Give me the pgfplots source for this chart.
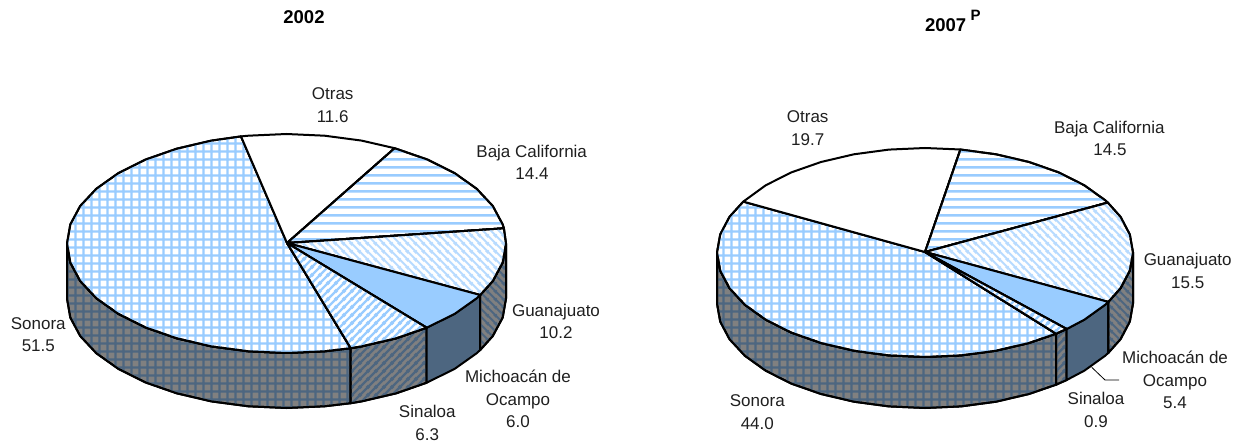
\documentclass[border=0pt]{standalone}
\usepackage{pgfplots}
\pgfplotsset{compat=1.18}
\usepackage{fontspec}
\setmainfont{Liberation Sans}
\usetikzlibrary{patterns}
\definecolor{topblue}{HTML}{99CCFF}
\definecolor{lightblue}{HTML}{B8DBFF}
\definecolor{sideblue}{HTML}{4D6680}
\definecolor{sidegray}{HTML}{808080}
\pgfdeclarepatternformonly{plaid}{\pgfqpoint{0pt}{0pt}}{\pgfqpoint{8pt}{8pt}}{\pgfqpoint{8pt}{8pt}}{%
  \pgfsetlinewidth{2.6pt}%
  \pgfpathmoveto{\pgfqpoint{4pt}{-1pt}}\pgfpathlineto{\pgfqpoint{4pt}{9pt}}%
  \pgfpathmoveto{\pgfqpoint{-1pt}{4pt}}\pgfpathlineto{\pgfqpoint{9pt}{4pt}}%
  \pgfusepath{stroke}}
\pgfdeclarepatternformonly{hstripes}{\pgfqpoint{0pt}{0pt}}{\pgfqpoint{8pt}{8pt}}{\pgfqpoint{8pt}{8pt}}{%
  \pgfsetlinewidth{2.6pt}%
  \pgfpathmoveto{\pgfqpoint{-1pt}{4pt}}\pgfpathlineto{\pgfqpoint{9pt}{4pt}}%
  \pgfusepath{stroke}}
\pgfdeclarepatternformonly{upstripes}{\pgfqpoint{0pt}{0pt}}{\pgfqpoint{8pt}{8pt}}{\pgfqpoint{8pt}{8pt}}{%
  \pgfsetlinewidth{2.6pt}%
  \pgfpathmoveto{\pgfqpoint{-2pt}{-2pt}}\pgfpathlineto{\pgfqpoint{10pt}{10pt}}%
  \pgfpathmoveto{\pgfqpoint{-2pt}{6pt}}\pgfpathlineto{\pgfqpoint{2pt}{10pt}}%
  \pgfpathmoveto{\pgfqpoint{6pt}{-2pt}}\pgfpathlineto{\pgfqpoint{10pt}{2pt}}%
  \pgfusepath{stroke}}
\pgfdeclarepatternformonly{downstripes}{\pgfqpoint{0pt}{0pt}}{\pgfqpoint{8pt}{8pt}}{\pgfqpoint{8pt}{8pt}}{%
  \pgfsetlinewidth{2.2pt}%
  \pgfpathmoveto{\pgfqpoint{-2pt}{10pt}}\pgfpathlineto{\pgfqpoint{10pt}{-2pt}}%
  \pgfpathmoveto{\pgfqpoint{-2pt}{2pt}}\pgfpathlineto{\pgfqpoint{2pt}{-2pt}}%
  \pgfpathmoveto{\pgfqpoint{6pt}{10pt}}\pgfpathlineto{\pgfqpoint{10pt}{6pt}}%
  \pgfusepath{stroke}}
\tikzset{
  edge/.style={draw=black,line width=2pt,line join=round},
  top/.style={edge,preaction={fill=white},pattern=#1,pattern color=topblue},
  topl/.style={edge,preaction={fill=white},pattern=#1,pattern color=lightblue},
  side/.style={edge,preaction={fill=sidegray},pattern=#1,pattern color=sideblue},
  lab/.style={anchor=base,inner sep=0pt,text=black!88,font=\fontsize{17}{20}\selectfont},
  ttl/.style={anchor=base,inner sep=0pt,font=\fontsize{18.5}{20}\selectfont\bfseries},
}
\begin{document}
\begin{tikzpicture}
\useasboundingbox (0,0) rectangle (1238pt,443pt);
\begin{axis}[at={(0,0)},anchor=south west,width=1238pt,height=443pt,scale only axis,
  xmin=0,xmax=1238,ymin=0,ymax=443,y dir=reverse,hide axis,clip=false]
% ---- 2002: sides
\addplot[side=plaid] coordinates {(67,243.5)(70.3,262.5)(80.2,281)(96.4,298.3)(118.4,313.9)(145.4,327.4)(176.7,338.3)(211.4,346.4)(248.4,351.3)(286.5,353)(324.6,351.3)(350.7,348.2)(350.7,403.2)(324.6,406.3)(286.5,408)(248.4,406.3)(211.4,401.4)(176.7,393.3)(145.4,382.4)(118.4,368.9)(96.4,353.3)(80.2,336)(70.3,317.5)(67,298.5)} -- cycle;
\addplot[side=upstripes] coordinates {(350.7,348.2)(361.6,346.4)(396.3,338.3)(426.7,327.7)(426.7,382.7)(396.3,393.3)(361.6,401.4)(350.7,403.2)} -- cycle;
\addplot[edge,fill=sideblue] coordinates {(426.7,327.7)(454.6,313.9)(476.6,298.3)(480.2,295)(480.2,350)(476.6,353.3)(454.6,368.9)(426.7,382.7)} -- cycle;
\addplot[side=downstripes] coordinates {(480.2,295)(492.8,281)(502.7,262.5)(506,243.5)(506,298.5)(502.7,317.5)(492.8,336)(480.2,350)} -- cycle;
% ---- 2002: top faces
\addplot[top=plaid] coordinates {(287,243)(350.7,348.2)(324.6,351.3)(286.5,353)(248.4,351.3)(211.4,346.4)(176.7,338.3)(145.4,327.4)(118.4,313.9)(96.4,298.3)(80.2,281)(70.3,262.5)(67,243.5)(70.3,224.5)(80.2,206)(96.4,188.7)(118.4,173.1)(145.4,159.6)(176.7,148.7)(211.4,140.6)(241,136.4)} -- cycle;
\addplot[edge,fill=white] coordinates {(287,243)(241,136.4)(248.4,135.7)(286.5,134)(324.6,135.7)(361.6,140.6)(394.6,148.2)} -- cycle;
\addplot[top=hstripes] coordinates {(287,243)(394.6,148.2)(427.6,159.6)(454.6,173.1)(476.6,188.7)(492.8,206)(502.7,224.5)(503.9,228.3)} -- cycle;
\addplot[topl=downstripes] coordinates {(287,243)(503.9,228.3)(506,243.5)(502.7,262.5)(492.8,281)(480.2,295)} -- cycle;
\addplot[edge,fill=topblue] coordinates {(287,243)(480.2,295)(476.6,298.3)(454.6,313.9)(426.7,327.7)} -- cycle;
\addplot[top=upstripes] coordinates {(287,243)(426.7,327.7)(396.3,338.3)(361.6,346.4)(350.7,348.2)} -- cycle;
% ---- 2007: sides
\addplot[side=plaid] coordinates {(717,252.5)(720.2,270.6)(729.5,288.2)(744.9,304.8)(765.7,319.7)(791.3,332.6)(821,343)(853.9,350.7)(888.9,355.4)(925,357)(961.1,355.4)(996.1,350.7)(1029,343)(1056,333.7)(1056,384.7)(1029,394)(996.1,401.7)(961.1,406.4)(925,408)(888.9,406.4)(853.9,401.7)(821,394)(791.3,383.6)(765.7,370.7)(744.9,355.8)(729.5,339.2)(720.2,321.6)(717,303.5)} -- cycle;
\addplot[side=upstripes] coordinates {(1056,333.7)(1066.7,329)(1066.7,380)(1056,384.7)} -- cycle;
\addplot[edge,fill=sideblue] coordinates {(1066.7,329)(1084.3,319.7)(1105.1,304.8)(1108.3,301.9)(1108.3,352.9)(1105.1,355.8)(1084.3,370.7)(1066.7,380)} -- cycle;
\addplot[side=downstripes] coordinates {(1108.3,301.9)(1120.5,288.2)(1129.8,270.6)(1133,252.5)(1133,303.5)(1129.8,321.6)(1120.5,339.2)(1108.3,352.9)} -- cycle;
% ---- 2007: top faces
\addplot[top=plaid] coordinates {(925,252)(1056,333.7)(1029,343)(996.1,350.7)(961.1,355.4)(925,357)(888.9,355.4)(853.9,350.7)(821,343)(791.3,332.6)(765.7,319.7)(744.9,304.8)(729.5,288.2)(720.2,270.6)(717,252.5)(720.2,234.4)(729.5,216.8)(743.3,201.6)} -- cycle;
\addplot[edge,fill=white] coordinates {(925,252)(743.3,201.6)(765.7,185.3)(791.3,172.4)(821,162)(853.9,154.3)(888.9,149.6)(925,148)(960.4,149.5)} -- cycle;
\addplot[top=hstripes] coordinates {(925,252)(960.4,149.5)(996.1,154.3)(1029,162)(1058.7,172.4)(1084.3,185.3)(1105.1,200.2)(1107.8,202.6)} -- cycle;
\addplot[topl=downstripes] coordinates {(925,252)(1107.8,202.6)(1120.5,216.8)(1129.8,234.4)(1133,252.5)(1129.8,270.6)(1120.5,288.2)(1108.3,301.9)} -- cycle;
\addplot[edge,fill=topblue] coordinates {(925,252)(1108.3,301.9)(1105.1,304.8)(1084.3,319.7)(1066.7,329)} -- cycle;
\addplot[top=upstripes] coordinates {(925,252)(1066.7,329)(1056,333.7)} -- cycle;
% leader line
\addplot[black,line width=0.8pt] coordinates {(1091.7,367.3)(1105,380)(1119,380)};
% ---- labels
\node[ttl] at (axis cs:304,23.5) {2002};
\node[lab] at (axis cs:332.7,100) {Otras};
\node[lab] at (axis cs:332.7,123) {11.6};
\node[lab] at (axis cs:531.7,157.7) {Baja California};
\node[lab] at (axis cs:532,180) {14.4};
\node[lab] at (axis cs:556,316.7) {Guanajuato};
\node[lab] at (axis cs:556,338.7) {10.2};
\node[lab] at (axis cs:518,382.7) {Michoacán de};
\node[lab] at (axis cs:518,405.3) {Ocampo};
\node[lab] at (axis cs:518,427.7) {6.0};
\node[lab] at (axis cs:427.3,417.7) {Sinaloa};
\node[lab] at (axis cs:427.3,440) {6.3};
\node[lab] at (axis cs:38.3,329.3) {Sonora};
\node[lab] at (axis cs:38.3,351.7) {51.5};
\node[ttl] at (axis cs:945.7,32) {2007};
\node[anchor=base,inner sep=0pt,font=\fontsize{15}{18}\selectfont\bfseries] at (axis cs:975.7,21) {P};
\node[lab] at (axis cs:807.7,123) {Otras};
\node[lab] at (axis cs:807.7,146) {19.7};
\node[lab] at (axis cs:1109.3,133.3) {Baja California};
\node[lab] at (axis cs:1110,156) {14.5};
\node[lab] at (axis cs:1187.7,265.3) {Guanajuato};
\node[lab] at (axis cs:1187.7,288.3) {15.5};
\node[lab] at (axis cs:1175,363.3) {Michoacán de};
\node[lab] at (axis cs:1175,386) {Ocampo};
\node[lab] at (axis cs:1175,408.7) {5.4};
\node[lab] at (axis cs:1096,404.3) {Sinaloa};
\node[lab] at (axis cs:1096,427) {0.9};
\node[lab] at (axis cs:757.3,406) {Sonora};
\node[lab] at (axis cs:757.3,429.3) {44.0};
\end{axis}
\end{tikzpicture}
\end{document}
